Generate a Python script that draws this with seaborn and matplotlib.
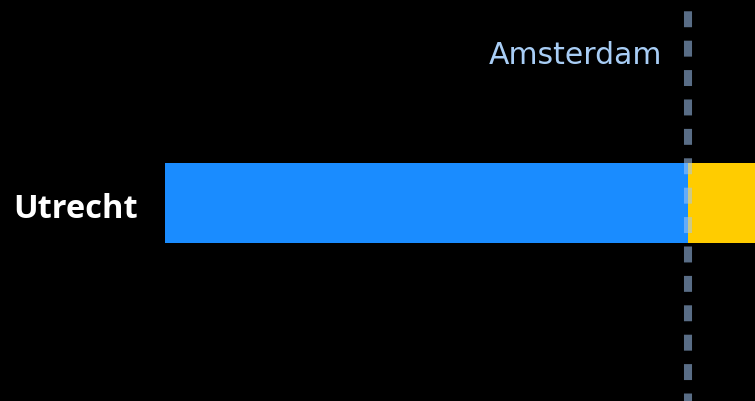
import matplotlib
matplotlib.use("Agg")
import matplotlib.pyplot as plt
import pandas as pd
import seaborn as sns

# values (cropped view of a stacked bar)
cities = ["Utrecht"]
blueValues = [52.0]
yellowValues = [20.0]
refLabel = "Amsterdam"
refValue = 52.0

sns.set_theme(style="dark")
plt.rcParams["font.family"] = ["DejaVu Sans"]

df = pd.DataFrame({"city": cities, "blue": blueValues, "yellow": yellowValues})
df["total"] = df["blue"] + df["yellow"]

fig = plt.figure(figsize=(7.55, 4.01), dpi=100, facecolor="black")
ax = fig.add_axes([0, 0, 1, 1])
ax.set_facecolor("black")

sns.barplot(ax=ax, data=df, x="total", y="city", color="#ffcc00", saturation=1, width=0.8, orient="h", linewidth=0)
sns.barplot(ax=ax, data=df, x="blue", y="city", color="#1a8cff", saturation=1, width=0.8, orient="h", linewidth=0)

ax.axvline(refValue, color="#a4c8f5", alpha=0.55, lw=5.8, linestyle=(1.05, (1.98, 1.67)), dash_capstyle="butt")
ax.text(refValue - 2.5, -1.47, refLabel, color="#a8cdf5", fontsize=21.5, ha="right", va="center")

ax.set_xlim(-16.4, 58.7)
ax.set_ylim(1.98, -2.03)

# category label drawn as text left of the bar
for i, c in enumerate(cities):
    ax.text(-2.7, i + 0.06, c, color="white", fontweight="bold", fontsize=23.5,
            family=["Open Sans", "DejaVu Sans"], ha="right", va="center")

ax.set_xticks([])
ax.set_yticks([])
ax.set_xlabel("")
ax.set_ylabel("")
for s in ax.spines.values():
    s.set_visible(False)
ax.grid(False)

fig.savefig("out.png", dpi=100, facecolor="black")
